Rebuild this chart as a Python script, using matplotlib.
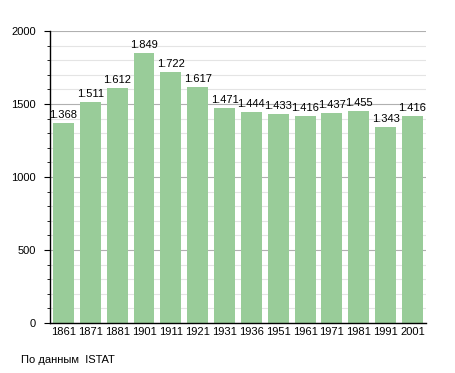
import matplotlib
matplotlib.use("Agg")
import matplotlib.pyplot as plt
import numpy as np

years = ["1861", "1871", "1881", "1901", "1911", "1921", "1931",
         "1936", "1951", "1961", "1971", "1981", "1991", "2001"]
population = [1368, 1511, 1612, 1849, 1722, 1617, 1471,
              1444, 1433, 1416, 1437, 1455, 1343, 1416]
value_labels = ["1.368", "1.511", "1.612", "1.849", "1.722", "1.617", "1.471",
                "1.444", "1.433", "1.416", "1.437", "1.455", "1.343", "1.416"]

BAR_COLOR = "#99cc99"

plt.rcParams["font.family"] = ["Liberation Sans", "DejaVu Sans"]

fig = plt.figure(figsize=(4.55, 3.73), dpi=100)
ax = fig.add_axes([0.110, 0.134, 0.826, 0.783])

x = np.arange(len(years))
ax.bar(x, population, width=0.78, color=BAR_COLOR, zorder=2)
for xi, v, lab in zip(x, population, value_labels):
    ax.text(xi, v + 20, lab, ha="center", va="bottom", fontsize=8, zorder=3)

ax.set_xlim(-0.5, len(years) - 0.5)
ax.set_ylim(0, 2000)
ax.set_xticks(x)
ax.set_xticklabels(years, fontsize=8)
ax.set_yticks([0, 500, 1000, 1500, 2000])
ax.set_yticklabels(["0", "500", "1000", "1500", "2000"], fontsize=8)
ax.set_yticks(np.arange(0, 2001, 100), minor=True)

ax.grid(axis="y", which="minor", color="#e4e4e4", lw=0.8, zorder=0)
ax.grid(axis="y", which="major", color="#b0b0b0", lw=0.8, zorder=0)
ax.tick_params(axis="x", length=0, pad=3)
ax.tick_params(axis="y", which="major", length=4, pad=6)
ax.tick_params(axis="y", which="minor", length=2)

for side in ["top", "right"]:
    ax.spines[side].set_visible(False)
ax.spines["left"].set_linewidth(1.0)
ax.spines["bottom"].set_linewidth(1.0)

fig.text(0.046, 0.022, "По данным  ISTAT", fontsize=8, ha="left", va="bottom")

fig.savefig("out.png", dpi=100, facecolor="white")
